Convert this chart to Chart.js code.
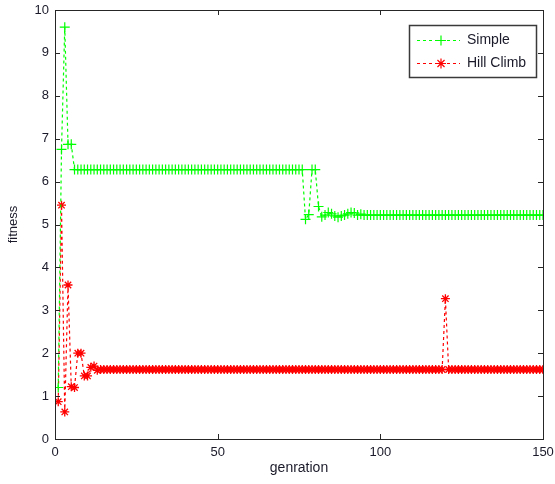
<!DOCTYPE html>
<html>
<head>
<meta charset="utf-8">
<script src="https://cdn.jsdelivr.net/npm/chart.js@4/dist/chart.umd.min.js"></script>
<style>
html,body{margin:0;padding:0;background:#fff;}
#c{display:block;}
</style>
</head>
<body>
<canvas id="c" width="555" height="484"></canvas>
<script>
// ---- data ----
const seriesNames = ["Simple", "Hill Climb"];
const xTicks = [0, 50, 100, 150];
const yTicks = [0, 1, 2, 3, 4, 5, 6, 7, 8, 9, 10];

const simpleFitness = [
  1.2, 6.75, 9.6, 6.87, 6.87, 6.28, 6.28, 6.28, 6.28, 6.28,
  6.28, 6.28, 6.28, 6.28, 6.28, 6.28, 6.28, 6.28, 6.28, 6.28,
  6.28, 6.28, 6.28, 6.28, 6.28, 6.28, 6.28, 6.28, 6.28, 6.28,
  6.28, 6.28, 6.28, 6.28, 6.28, 6.28, 6.28, 6.28, 6.28, 6.28,
  6.28, 6.28, 6.28, 6.28, 6.28, 6.28, 6.28, 6.28, 6.28, 6.28,
  6.28, 6.28, 6.28, 6.28, 6.28, 6.28, 6.28, 6.28, 6.28, 6.28,
  6.28, 6.28, 6.28, 6.28, 6.28, 6.28, 6.28, 6.28, 6.28, 6.28,
  6.28, 6.28, 6.28, 6.28, 6.28, 6.28, 5.12, 5.23, 6.28, 6.28,
  5.42, 5.18, 5.22, 5.28, 5.25, 5.2, 5.17, 5.2, 5.22, 5.25,
  5.28, 5.27, 5.22, 5.24, 5.22, 5.22, 5.22, 5.22, 5.22, 5.22,
  5.22, 5.22, 5.22, 5.22, 5.22, 5.22, 5.22, 5.22, 5.22, 5.22,
  5.22, 5.22, 5.22, 5.22, 5.22, 5.22, 5.22, 5.22, 5.22, 5.22,
  5.22, 5.22, 5.22, 5.22, 5.22, 5.22, 5.22, 5.22, 5.22, 5.22,
  5.22, 5.22, 5.22, 5.22, 5.22, 5.22, 5.22, 5.22, 5.22, 5.22,
  5.22, 5.22, 5.22, 5.22, 5.22, 5.22, 5.22, 5.22, 5.22, 5.22
];

const hillClimbFitness = [
  0.87, 5.45, 0.63, 3.59, 1.22, 1.2, 2.0, 2.0, 1.47, 1.47,
  1.67, 1.7, 1.6, 1.62, 1.62, 1.62, 1.62, 1.62, 1.62, 1.62,
  1.62, 1.62, 1.62, 1.62, 1.62, 1.62, 1.62, 1.62, 1.62, 1.62,
  1.62, 1.62, 1.62, 1.62, 1.62, 1.62, 1.62, 1.62, 1.62, 1.62,
  1.62, 1.62, 1.62, 1.62, 1.62, 1.62, 1.62, 1.62, 1.62, 1.62,
  1.62, 1.62, 1.62, 1.62, 1.62, 1.62, 1.62, 1.62, 1.62, 1.62,
  1.62, 1.62, 1.62, 1.62, 1.62, 1.62, 1.62, 1.62, 1.62, 1.62,
  1.62, 1.62, 1.62, 1.62, 1.62, 1.62, 1.62, 1.62, 1.62, 1.62,
  1.62, 1.62, 1.62, 1.62, 1.62, 1.62, 1.62, 1.62, 1.62, 1.62,
  1.62, 1.62, 1.62, 1.62, 1.62, 1.62, 1.62, 1.62, 1.62, 1.62,
  1.62, 1.62, 1.62, 1.62, 1.62, 1.62, 1.62, 1.62, 1.62, 1.62,
  1.62, 1.62, 1.62, 1.62, 1.62, 1.62, 1.62, 1.62, 1.62, 3.27,
  1.62, 1.62, 1.62, 1.62, 1.62, 1.62, 1.62, 1.62, 1.62, 1.62,
  1.62, 1.62, 1.62, 1.62, 1.62, 1.62, 1.62, 1.62, 1.62, 1.62,
  1.62, 1.62, 1.62, 1.62, 1.62, 1.62, 1.62, 1.62, 1.62, 1.62
];

const generations = simpleFitness.map((_, i) => i + 1);

// ---- styling ----
const GREEN = '#00ff00';
const RED = '#ff0000';
const AXIS = '#262626';
const TEXT = '#1a1a2a';
const FONT = '"Liberation Sans", Arial, sans-serif';

const toPts = arr => arr.map((v, i) => ({x: generations[i], y: v}));

// Frame box with inward ticks (MATLAB style) + legend box
const framePlugin = {
  id: 'frame',
  afterDatasetsDraw(chart) {
    const {ctx, chartArea: a, scales: {x, y}} = chart;
    ctx.save();
    ctx.strokeStyle = AXIS;
    ctx.lineWidth = 1;
    ctx.strokeRect(Math.round(a.left) + 0.5, Math.round(a.top) + 0.5,
                   Math.round(a.right - a.left), Math.round(a.bottom - a.top));
    const L = 5;
    ctx.beginPath();
    xTicks.forEach(t => {
      const px = Math.round(x.getPixelForValue(t)) + 0.5;
      ctx.moveTo(px, a.bottom); ctx.lineTo(px, a.bottom - L);
      ctx.moveTo(px, a.top); ctx.lineTo(px, a.top + L);
    });
    yTicks.forEach(t => {
      const py = Math.round(y.getPixelForValue(t)) + 0.5;
      ctx.moveTo(a.left, py); ctx.lineTo(a.left + L, py);
      ctx.moveTo(a.right, py); ctx.lineTo(a.right - L, py);
    });
    ctx.stroke();
    ctx.restore();
  },
  afterDraw(chart) {
    const {ctx, chartArea: a} = chart;
    const bx = Math.round(a.right) - 134, by = Math.round(a.top) + 15;
    const bw = 127, bh = 52;
    ctx.save();
    ctx.fillStyle = '#fff';
    ctx.fillRect(bx, by, bw, bh);
    ctx.strokeStyle = '#3a3a3a';
    ctx.lineWidth = 1.5;
    ctx.strokeRect(bx + 0.5, by + 0.5, bw, bh);
    const entries = [
      {name: seriesNames[0], color: GREEN, style: 'cross', yOff: 14.5},
      {name: seriesNames[1], color: RED, style: 'star', yOff: 38}
    ];
    entries.forEach(e => {
      const ly = Math.round(by + e.yOff) + 0.5;
      ctx.strokeStyle = e.color;
      ctx.lineWidth = 1.2;
      ctx.setLineDash([3, 3]);
      ctx.beginPath();
      ctx.moveTo(bx + 8, ly); ctx.lineTo(bx + 51, ly);
      ctx.stroke();
      ctx.setLineDash([]);
      ctx.strokeStyle = e.color;
      Chart.helpers.drawPoint(ctx, {pointStyle: e.style, radius: 5, borderWidth: 1.2}, bx + 32, ly);
      ctx.fillStyle = TEXT;
      ctx.font = '14px ' + FONT;
      ctx.textBaseline = 'middle';
      ctx.textAlign = 'left';
      ctx.fillText(e.name, bx + 58, ly);
    });
    ctx.restore();
  }
};

const ctx = document.getElementById('c').getContext('2d');
new Chart(ctx, {
  type: 'line',
  data: {
    datasets: [
      {
        label: seriesNames[0],
        data: toPts(simpleFitness),
        borderColor: GREEN,
        backgroundColor: GREEN,
        borderWidth: 1.2,
        borderDash: [3, 3],
        pointStyle: 'cross',
        pointRadius: 5,
        pointBorderWidth: 1.2,
        pointBorderColor: GREEN,
        fill: false,
        tension: 0
      },
      {
        label: seriesNames[1],
        data: toPts(hillClimbFitness),
        borderColor: RED,
        backgroundColor: RED,
        borderWidth: 1.2,
        borderDash: [3, 3],
        pointStyle: 'star',
        pointRadius: 4.5,
        pointBorderWidth: 1.3,
        pointBorderColor: RED,
        fill: false,
        tension: 0
      }
    ]
  },
  options: {
    responsive: false,
    animation: false,
    devicePixelRatio: 1,
    layout: {padding: {top: 10, right: 12, left: 0, bottom: 0}},
    plugins: {legend: {display: false}, tooltip: {enabled: false}},
    scales: {
      x: {
        type: 'linear',
        min: 0, max: 150,
        afterBuildTicks: s => { s.ticks = xTicks.map(v => ({value: v})); },
        afterFit: s => { s.height = 45; s.paddingLeft = 0; s.paddingRight = 0; },
        grid: {display: false, drawTicks: false},
        border: {display: false},
        ticks: {color: TEXT, font: {family: FONT, size: 13}, padding: 6, maxRotation: 0},
        title: {display: true, text: 'genration', color: TEXT, font: {family: FONT, size: 14}, padding: {top: 0, bottom: 7}}
      },
      y: {
        type: 'linear',
        min: 0, max: 10,
        afterBuildTicks: s => { s.ticks = yTicks.map(v => ({value: v})); },
        afterFit: s => { s.width = 55; s.paddingTop = 0; s.paddingBottom = 0; },
        grid: {display: false, drawTicks: false},
        border: {display: false},
        ticks: {color: TEXT, font: {family: FONT, size: 13}, padding: 6},
        title: {display: true, text: 'fitness', color: TEXT, font: {family: FONT, size: 13}, padding: {top: 6, bottom: 0}}
      }
    }
  },
  plugins: [framePlugin]
});
</script>
</body>
</html>
